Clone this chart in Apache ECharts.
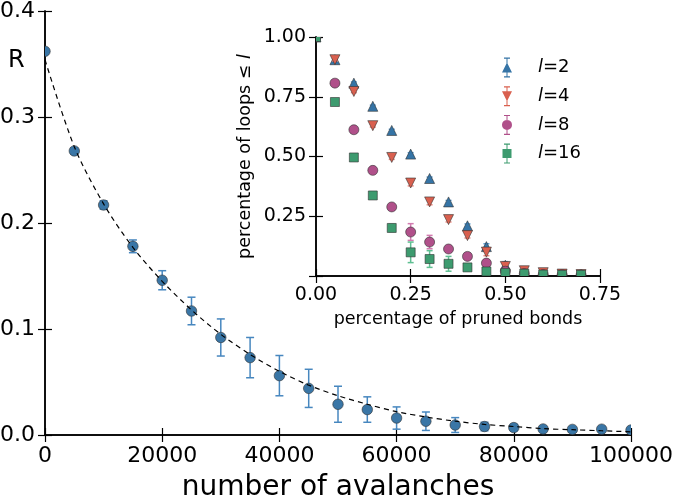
<!DOCTYPE html>
<html><head><meta charset="utf-8">
<script src="https://cdn.jsdelivr.net/npm/echarts@6/dist/echarts.min.js"></script>
<style>html,body{margin:0;padding:0;background:#fff}#c{width:675px;height:496px}</style>
</head><body><div id="c"></div>
<script>
// ---- main plot data ----
const avalanches = [0,5000,10000,15000,20000,25000,30000,35000,40000,45000,50000,55000,60000,65000,70000,75000,80000,85000,90000,95000,100000];
const R      = [0.362,0.268,0.217,0.178,0.146,0.117,0.092,0.073,0.056,0.044,0.029,0.024,0.016,0.013,0.0094,0.008,0.007,0.0057,0.0053,0.0055,0.0047];
const Rerr   = [0.002,0.003,0.004,0.006,0.009,0.013,0.0175,0.019,0.019,0.018,0.017,0.012,0.0105,0.0087,0.007,0.004,0.003,0.002,0.002,0.002,0.002];
const fitR   = [0.354,0.272,0.218,0.177,0.145,0.118,0.095,0.076,0.060,0.047,0.037,0.029,0.022,0.017,0.013,0.010,0.008,0.006,0.005,0.004,0.003];
const mainXTicks = [0,20000,40000,60000,80000,100000];
const mainYTicks = [0.0,0.1,0.2,0.3,0.4];

// ---- inset data ----
const pruned = [0,0.05,0.10,0.15,0.20,0.25,0.30,0.35,0.40,0.45,0.50,0.55,0.60,0.65,0.70];
const loops2  = [1.0,0.905,0.807,0.710,0.609,0.510,0.408,0.310,0.210,0.123,0.045,0.020,0.012,0.008,0.006];
const err2    = [0,0.005,0.005,0.005,0.005,0.006,0.006,0.006,0.008,0.012,0.015,0.005,0.003,0.002,0.002];
const loops4  = [1.0,0.905,0.772,0.629,0.496,0.389,0.310,0.236,0.169,0.100,0.040,0.022,0.014,0.008,0.006];
const err4    = [0,0.005,0.005,0.006,0.008,0.012,0.012,0.010,0.010,0.015,0.012,0.006,0.004,0.002,0.002];
const loops8  = [1.0,0.807,0.612,0.442,0.289,0.184,0.142,0.113,0.082,0.054,0.020,0.010,0.006,0.005,0.004];
const err8    = [0,0.005,0.005,0.008,0.012,0.035,0.028,0.012,0.010,0.010,0.006,0.003,0.002,0.002,0.002];
const loops16 = [1.0,0.728,0.496,0.337,0.201,0.099,0.071,0.051,0.036,0.019,0.013,0.010,0.006,0.005,0.005];
const err16   = [0,0.005,0.006,0.008,0.015,0.043,0.035,0.031,0.015,0.010,0.006,0.004,0.003,0.002,0.002];
const insetXTicks = [0,0.25,0.50,0.75];
const insetYTicks = [0,0.25,0.50,0.75,1.00];
const seriesNames = ['l=2','l=4','l=8','l=16'];

const FONT = 'DejaVu Sans';
const C = {
  main:'#3a76a6', mainErr:'#4787bf',
  blue:'#3574a6', blueErr:'#5d9fd3',
  red:'#d9604f', redErr:'#ea8a80',
  mag:'#b0508a', magErr:'#d27bb0',
  green:'#3d9b6f', greenErr:'#5fbf92'
};

function markerShape(kind, p, s, fill){
  const h = s/2;
  const style = {fill: fill, stroke:'#333', lineWidth:0.6};
  if (kind === 'circle') return {type:'circle', shape:{cx:p[0], cy:p[1], r:h}, style};
  if (kind === 'rect') return {type:'rect', shape:{x:p[0]-h, y:p[1]-h, width:s, height:s}, style};
  if (kind === 'up') return {type:'polygon', shape:{points:[[p[0],p[1]-h],[p[0]-h,p[1]+h],[p[0]+h,p[1]+h]]}, style};
  return {type:'polygon', shape:{points:[[p[0],p[1]+h],[p[0]-h,p[1]-h],[p[0]+h,p[1]-h]]}, style};
}
function makeRender(kind, size, fill, errColor, capW){
  return function(params, api){
    const x = api.value(0), y = api.value(1), e = api.value(2);
    const p = api.coord([x, y]);
    const children = [];
    if (e > 0){
      const hi = api.coord([x, y+e]), lo = api.coord([x, y-e]);
      const st = {stroke: errColor, lineWidth: 1.5};
      children.push({type:'line', shape:{x1:p[0], y1:hi[1], x2:p[0], y2:lo[1]}, style: st});
      children.push({type:'line', shape:{x1:p[0]-capW, y1:hi[1], x2:p[0]+capW, y2:hi[1]}, style: st});
      children.push({type:'line', shape:{x1:p[0]-capW, y1:lo[1], x2:p[0]+capW, y2:lo[1]}, style: st});
    }
    children.push(markerShape(kind, p, size, fill));
    return {type:'group', children};
  };
}
function zip3(a,b,c){ return a.map((v,i)=>[v,b[i],c[i]]); }

const axisLineStyle = {show:true, lineStyle:{color:'#000', width:1.5}};
const tickIn = {show:true, inside:true, length:7, lineStyle:{color:'#000', width:1.2}};

function valAxis(base){
  return Object.assign({type:'value', splitLine:{show:false}, axisLine:axisLineStyle, axisTick:tickIn}, base);
}

const BAR = 'M4.5 0H5.5V20H4.5Z M2 0H8V1.2H2Z M2 18.8H8V20H2Z ';
const option = {
  backgroundColor:'#fff',
  animation:false,
  textStyle:{fontFamily:FONT},
  grid:[
    {left:45, right:44, top:11, bottom:61, containLabel:false, outerBoundsMode:'none'},
    {left:316, right:75, top:37, height:239, show:true, backgroundColor:'#fff', borderWidth:0, containLabel:false, outerBoundsMode:'none'}
  ],
  xAxis:[
    valAxis({gridIndex:0, position:'bottom', min:mainXTicks[0], max:mainXTicks[mainXTicks.length-1], interval:mainXTicks[1]-mainXTicks[0],
      axisLabel:{fontSize:22, color:'#000', margin:10, fontFamily:FONT, formatter:v=>String(v)},
      name:'number of avalanches', nameLocation:'middle', nameGap:39,
      nameTextStyle:{fontSize:28, color:'#000', fontFamily:FONT}}),
    valAxis({gridIndex:0, position:'top', min:mainXTicks[0], max:mainXTicks[mainXTicks.length-1], interval:mainXTicks[1]-mainXTicks[0],
      axisLabel:{show:false}}),
    valAxis({gridIndex:1, position:'bottom', min:insetXTicks[0], max:insetXTicks[insetXTicks.length-1], interval:insetXTicks[1]-insetXTicks[0],
      axisLabel:{fontSize:19, color:'#000', margin:10, fontFamily:FONT, formatter:v=>v.toFixed(2)},
      name:'percentage of pruned bonds', nameLocation:'middle', nameGap:34,
      nameTextStyle:{fontSize:17.5, color:'#000', fontFamily:FONT}}),
    valAxis({gridIndex:1, position:'top', min:insetXTicks[0], max:insetXTicks[insetXTicks.length-1], interval:insetXTicks[1]-insetXTicks[0],
      axisLabel:{show:false}})
  ],
  yAxis:[
    valAxis({gridIndex:0, position:'left', min:mainYTicks[0], max:mainYTicks[mainYTicks.length-1], interval:mainYTicks[1]-mainYTicks[0],
      axisLabel:{fontSize:22, color:'#000', margin:10, fontFamily:FONT, formatter:v=>v.toFixed(1)}}),
    valAxis({gridIndex:0, position:'right', min:mainYTicks[0], max:mainYTicks[mainYTicks.length-1], interval:mainYTicks[1]-mainYTicks[0],
      axisLabel:{show:false}}),
    valAxis({gridIndex:1, position:'left', min:insetYTicks[0], max:insetYTicks[insetYTicks.length-1], interval:insetYTicks[1]-insetYTicks[0],
      axisLabel:{fontSize:19, color:'#000', margin:10, fontFamily:FONT, formatter:v=> v===0 ? '' : v.toFixed(2)},
      name:'{n|percentage of loops ≤ }{i|l}', nameLocation:'middle', nameGap:62,
      nameTextStyle:{color:'#000', rich:{n:{fontSize:17.5, fontFamily:FONT, color:'#000'}, i:{fontSize:17.5, fontFamily:FONT, fontStyle:'italic', color:'#000'}}}}),
    valAxis({gridIndex:1, position:'right', min:insetYTicks[0], max:insetYTicks[insetYTicks.length-1], interval:insetYTicks[1]-insetYTicks[0],
      axisLabel:{show:false}})
  ],
  legend:{
    orient:'vertical', left:497, top:52.5, itemWidth:10, itemHeight:20, itemGap:8.7,
    itemStyle:{borderWidth:0},
    data:[
      {name:'l=2',  icon:'path://' + BAR + 'M5 5L10 15H0Z'},
      {name:'l=4',  icon:'path://' + BAR + 'M0 5H10L5 15Z'},
      {name:'l=8',  icon:'path://' + BAR + 'M5 5A5 5 0 1 1 4.99 5Z'},
      {name:'l=16', icon:'path://' + BAR + 'M0.5 5.5H9.5V14.5H0.5Z'}
    ],
    formatter: n => '{i|l}{t|' + n.slice(1) + '}',
    textStyle:{color:'#000', fontSize:18, lineHeight:20, padding:[0,0,0,21],
      rich:{i:{fontSize:18, fontStyle:'italic', fontFamily:FONT, color:'#000'}, t:{fontSize:18, fontFamily:FONT, color:'#000'}}}
  },
  graphic:[
    {type:'text', left:8, top:49, style:{text:'R', font:'24px "DejaVu Sans"', fill:'#000'}}
  ],
  series:[
    {type:'custom', name:'R', xAxisIndex:0, yAxisIndex:0, clip:true, z:2,
      renderItem: makeRender('circle', 10.5, C.main, C.mainErr, 4),
      encode:{x:0, y:1}, data: zip3(avalanches, R, Rerr)},
    {type:'line', name:'fit', xAxisIndex:0, yAxisIndex:0, z:5, symbol:'none', smooth:0.3,
      lineStyle:{color:'#000', width:1.2, type:[5,4]}, data: avalanches.map((x,i)=>[x, fitR[i]])},
    {type:'custom', name:seriesNames[0], xAxisIndex:2, yAxisIndex:2, clip:true, z:2, itemStyle:{color:C.blue},
      renderItem: makeRender('up', 10, C.blue, C.blueErr, 3), encode:{x:0, y:1}, data: zip3(pruned, loops2, err2)},
    {type:'custom', name:seriesNames[1], xAxisIndex:2, yAxisIndex:2, clip:true, z:2, itemStyle:{color:C.red},
      renderItem: makeRender('down', 10, C.red, C.redErr, 3), encode:{x:0, y:1}, data: zip3(pruned, loops4, err4)},
    {type:'custom', name:seriesNames[2], xAxisIndex:2, yAxisIndex:2, clip:true, z:2, itemStyle:{color:C.mag},
      renderItem: makeRender('circle', 10, C.mag, C.magErr, 3), encode:{x:0, y:1}, data: zip3(pruned, loops8, err8)},
    {type:'custom', name:seriesNames[3], xAxisIndex:2, yAxisIndex:2, clip:true, z:2, itemStyle:{color:C.green},
      renderItem: makeRender('rect', 9, C.green, C.greenErr, 3), encode:{x:0, y:1}, data: zip3(pruned, loops16, err16)}
  ]
};
const chart = echarts.init(document.getElementById('c'), null, {renderer:'canvas'});
chart.setOption(option);
</script>
</body></html>
